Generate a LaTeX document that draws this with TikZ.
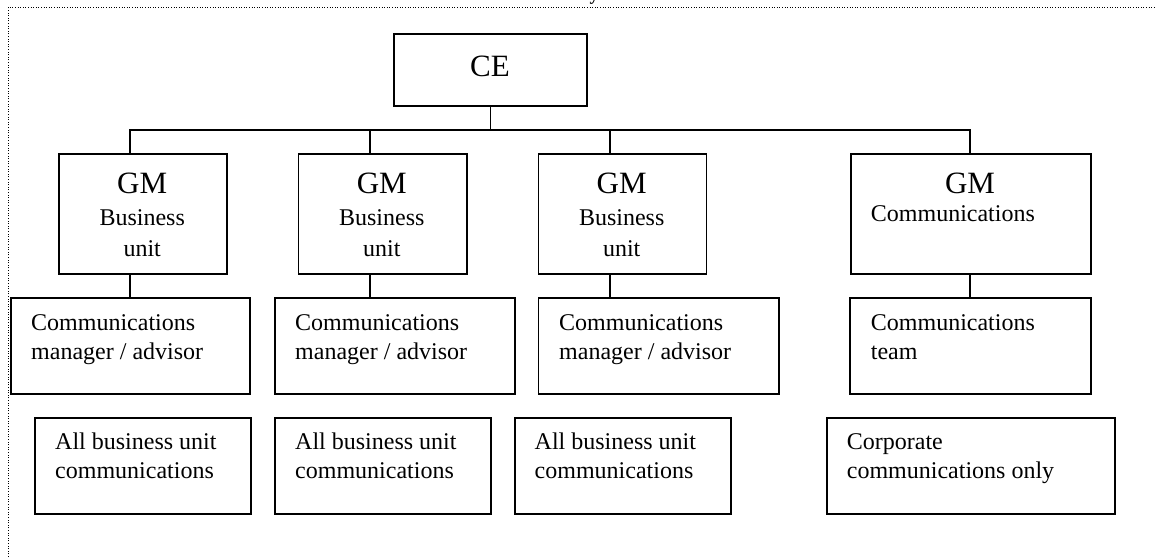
\documentclass[tikz,border=0pt]{standalone}
\usepackage{fontspec}
\setmainfont{Liberation Serif}
\begin{document}
\begin{tikzpicture}[x=1pt,y=-1pt,
  box/.style={draw,line width=1.5pt,inner sep=0pt,anchor=north west},
  link/.style={line width=1.5pt},
  frame/.style={line width=1.2pt,dash pattern=on 1pt off 1.6pt},
  bigtxt/.style={font=\fontsize{31}{34}\selectfont,inner sep=0pt,anchor=base},
  subtxt/.style={font=\fontsize{24}{31}\selectfont,inner sep=0pt,anchor=north,align=center},
  bodytxt/.style={font=\fontsize{24}{28.7}\selectfont,inner sep=0pt,anchor=north west,align=left}]
\useasboundingbox (0,0) rectangle (1156,557);
% frame
\draw[frame] (8.3,557) -- (8.3,7.3) -- (1156,7.3);
\node[font=\fontsize{18}{20}\selectfont\bfseries,inner sep=0pt,anchor=base] (headfrag) at (594,0) {y};
% CE
\node[box,minimum width=192.7pt,minimum height=72pt] (ce) at (393.3,33.3) {};
\node[bigtxt] (cet) at (490,76) {CE};
% GM boxes
\node[box,minimum width=167.7pt,minimum height=120pt] (gm1) at (58.3,153.3) {};
\node[box,minimum width=168.3pt,minimum height=120pt] (gm2) at (297.7,153.3) {};
\node[box,minimum width=168pt,minimum height=120pt] (gm3) at (537.7,153.3) {};
\node[box,minimum width=240pt,minimum height=120pt] (gm4) at (850,153.3) {};
\node[bigtxt] (gm1t) at (142.2,193.3) {GM};
\node[bigtxt] (gm2t) at (381.8,193.3) {GM};
\node[bigtxt] (gm3t) at (621.7,193.3) {GM};
\node[bigtxt] (gm4t) at (970,193.3) {GM};
\node[subtxt] (gm1s) at (142.2,203.3) {\strut Business\\unit};
\node[subtxt] (gm2s) at (381.8,203.3) {\strut Business\\unit};
\node[subtxt] (gm3s) at (621.7,203.3) {\strut Business\\unit};
\node[font=\fontsize{24}{28.7}\selectfont,inner sep=0pt,anchor=base west] (gm4s) at (870.7,221.7) {Communications};
% manager boxes
\node[box,minimum width=239.3pt,minimum height=96pt] (cm1) at (10,297.3) {};
\node[box,minimum width=240pt,minimum height=96pt] (cm2) at (274,297.3) {};
\node[box,minimum width=240.6pt,minimum height=96pt] (cm3) at (537.7,297.3) {};
\node[box,minimum width=240.7pt,minimum height=96pt] (cm4) at (849.3,297.3) {};
\node[bodytxt] (cm1t) at (31,310.6) {\strut Communications\\manager / advisor};
\node[bodytxt] (cm2t) at (295,310.6) {\strut Communications\\manager / advisor};
\node[bodytxt] (cm3t) at (559,310.6) {\strut Communications\\manager / advisor};
\node[bodytxt] (cm4t) at (870.7,310.6) {\strut Communications\\team};
% scope boxes
\node[box,minimum width=216pt,minimum height=96pt] (al1) at (34,417.3) {};
\node[box,minimum width=216pt,minimum height=96pt] (al2) at (274,417.3) {};
\node[box,minimum width=216pt,minimum height=96pt] (al3) at (514,417.3) {};
\node[box,minimum width=288pt,minimum height=96pt] (al4) at (826,417.3) {};
\node[bodytxt] (al1t) at (55,429.6) {\strut All business unit\\communications};
\node[bodytxt] (al2t) at (295,429.6) {\strut All business unit\\communications};
\node[bodytxt] (al3t) at (534.5,429.6) {\strut All business unit\\communications};
\node[bodytxt] (al4t) at (846.7,429.6) {\strut Corporate\\communications only};
% connectors
\coordinate (t1) at (130,130);
\coordinate (t2) at (370,130);
\coordinate (t3) at (610,130);
\coordinate (t4) at (970,130);
\draw[link] (ce.south) -- (ce.south |- t1);
\draw[link] (t1 |- gm1.north) -- (t1) -- (t4) -- (t4 |- gm4.north);
\draw[link] (t2) -- (t2 |- gm2.north);
\draw[link] (t3) -- (t3 |- gm3.north);
\draw[link] (t1 |- gm1.south) -- (t1 |- cm1.north);
\draw[link] (t2 |- gm2.south) -- (t2 |- cm2.north);
\draw[link] (t3 |- gm3.south) -- (t3 |- cm3.north);
\draw[link] (t4 |- gm4.south) -- (t4 |- cm4.north);
\end{tikzpicture}
\end{document}
